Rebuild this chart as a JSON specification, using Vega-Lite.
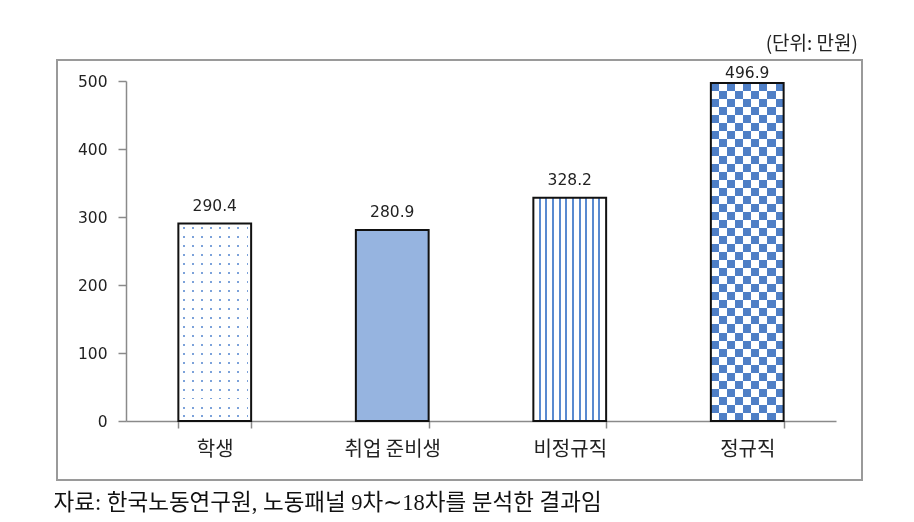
{
  "$schema": "https://vega.github.io/schema/vega-lite/v6.json",
  "width": 805,
  "height": 420,
  "autosize": {"type": "none"},
  "padding": {"left": 57, "top": 60, "right": 52, "bottom": 42},
  "background": "white",
  "config": {
    "view": {"stroke": "#9a9a9a", "strokeWidth": 2},
    "axis": {"grid": false}
  },
  "title": {
    "text": "(단위: 만원)",
    "anchor": "end",
    "orient": "top",
    "offset": 6,
    "dx": -4,
    "font": "Noto Sans CJK KR",
    "fontSize": 19,
    "fontWeight": "normal",
    "color": "#222222"
  },
  "data": {
    "values": [
      {"category": "학생", "value": 290.4},
      {"category": "취업 준비생", "value": 280.9},
      {"category": "비정규직", "value": 328.2},
      {"category": "정규직", "value": 496.9}
    ]
  },
  "encoding": {
    "x": {
      "field": "category",
      "type": "nominal",
      "sort": ["학생", "취업 준비생", "비정규직", "정규직"],
      "scale": {"range": [69, 779], "paddingInner": 0.59, "paddingOuter": 0.295},
      "axis": {
        "title": "자료: 한국노동연구원, 노동패널 9차∼18차를 분석한 결과임",
        "titleFont": "Liberation Serif, Noto Sans CJK KR",
        "titleFontSize": 22.5,
        "titleFontWeight": "normal",
        "titleColor": "#111111",
        "titleAlign": "left",
        "titleAnchor": "start",
        "titleBaseline": "middle",
        "titleX": -4,
        "titleY": 81,
        "offset": -59,
        "labelAngle": 0,
        "labelFont": "Noto Sans CJK KR",
        "labelFontSize": 20,
        "labelColor": "#222222",
        "labelPadding": 11,
        "tickBand": "extent",
        "tickColor": "#8a8a8a",
        "tickSize": 7,
        "tickWidth": 1.5,
        "domainColor": "#8a8a8a",
        "domainWidth": 1.5
      }
    },
    "y": {
      "field": "value",
      "type": "quantitative",
      "scale": {"domain": [0, 500], "range": [361, 21], "nice": false},
      "axis": {
        "title": null,
        "values": [0, 100, 200, 300, 400, 500],
        "offset": -69,
        "labelFont": "DejaVu Sans",
        "labelFontSize": 15.5,
        "labelColor": "#222222",
        "labelPadding": 11,
        "tickColor": "#8a8a8a",
        "tickSize": 8,
        "tickWidth": 1.5,
        "domainColor": "#8a8a8a",
        "domainWidth": 1.5
      }
    }
  },
  "layer": [
    {
      "transform": [{"filter": "datum.category === '학생'"}],
      "mark": {
        "type": "bar",
        "strokeWidth": 0,
        "fill": {
          "gradient": "linear", "x1": 0, "y1": 0, "x2": 1, "y2": 0,
          "stops": [
            {"offset": 0, "color": "#ffffff"},
            {"offset": 0.062, "color": "#ffffff"}, {"offset": 0.062, "color": "#7ca2da"}, {"offset": 0.086, "color": "#7ca2da"}, {"offset": 0.086, "color": "#ffffff"},
            {"offset": 0.187, "color": "#ffffff"}, {"offset": 0.187, "color": "#7ca2da"}, {"offset": 0.211, "color": "#7ca2da"}, {"offset": 0.211, "color": "#ffffff"},
            {"offset": 0.312, "color": "#ffffff"}, {"offset": 0.312, "color": "#7ca2da"}, {"offset": 0.336, "color": "#7ca2da"}, {"offset": 0.336, "color": "#ffffff"},
            {"offset": 0.437, "color": "#ffffff"}, {"offset": 0.437, "color": "#7ca2da"}, {"offset": 0.461, "color": "#7ca2da"}, {"offset": 0.461, "color": "#ffffff"},
            {"offset": 0.562, "color": "#ffffff"}, {"offset": 0.562, "color": "#7ca2da"}, {"offset": 0.586, "color": "#7ca2da"}, {"offset": 0.586, "color": "#ffffff"},
            {"offset": 0.687, "color": "#ffffff"}, {"offset": 0.687, "color": "#7ca2da"}, {"offset": 0.711, "color": "#7ca2da"}, {"offset": 0.711, "color": "#ffffff"},
            {"offset": 0.812, "color": "#ffffff"}, {"offset": 0.812, "color": "#7ca2da"}, {"offset": 0.836, "color": "#7ca2da"}, {"offset": 0.836, "color": "#ffffff"},
            {"offset": 0.937, "color": "#ffffff"}, {"offset": 0.937, "color": "#7ca2da"}, {"offset": 0.961, "color": "#7ca2da"}, {"offset": 0.961, "color": "#ffffff"},
            {"offset": 1, "color": "#ffffff"}
          ]
        }
      }
    },
    {
      "transform": [{"filter": "datum.category === '학생'"}],
      "mark": {
        "type": "bar",
        "strokeWidth": 0,
        "blend": "lighten",
        "fill": {
          "gradient": "linear", "x1": 0, "y1": 0, "x2": 0, "y2": 1,
          "stops": [
            {"offset": 0, "color": "#ffffff"},
            {"offset": 0.018, "color": "#ffffff"}, {"offset": 0.018, "color": "#000000"}, {"offset": 0.028, "color": "#000000"}, {"offset": 0.028, "color": "#ffffff"},
            {"offset": 0.063, "color": "#ffffff"}, {"offset": 0.063, "color": "#000000"}, {"offset": 0.073, "color": "#000000"}, {"offset": 0.073, "color": "#ffffff"},
            {"offset": 0.109, "color": "#ffffff"}, {"offset": 0.109, "color": "#000000"}, {"offset": 0.119, "color": "#000000"}, {"offset": 0.119, "color": "#ffffff"},
            {"offset": 0.154, "color": "#ffffff"}, {"offset": 0.154, "color": "#000000"}, {"offset": 0.164, "color": "#000000"}, {"offset": 0.164, "color": "#ffffff"},
            {"offset": 0.199, "color": "#ffffff"}, {"offset": 0.199, "color": "#000000"}, {"offset": 0.209, "color": "#000000"}, {"offset": 0.209, "color": "#ffffff"},
            {"offset": 0.245, "color": "#ffffff"}, {"offset": 0.245, "color": "#000000"}, {"offset": 0.255, "color": "#000000"}, {"offset": 0.255, "color": "#ffffff"},
            {"offset": 0.290, "color": "#ffffff"}, {"offset": 0.290, "color": "#000000"}, {"offset": 0.300, "color": "#000000"}, {"offset": 0.300, "color": "#ffffff"},
            {"offset": 0.336, "color": "#ffffff"}, {"offset": 0.336, "color": "#000000"}, {"offset": 0.346, "color": "#000000"}, {"offset": 0.346, "color": "#ffffff"},
            {"offset": 0.381, "color": "#ffffff"}, {"offset": 0.381, "color": "#000000"}, {"offset": 0.391, "color": "#000000"}, {"offset": 0.391, "color": "#ffffff"},
            {"offset": 0.427, "color": "#ffffff"}, {"offset": 0.427, "color": "#000000"}, {"offset": 0.437, "color": "#000000"}, {"offset": 0.437, "color": "#ffffff"},
            {"offset": 0.472, "color": "#ffffff"}, {"offset": 0.472, "color": "#000000"}, {"offset": 0.482, "color": "#000000"}, {"offset": 0.482, "color": "#ffffff"},
            {"offset": 0.518, "color": "#ffffff"}, {"offset": 0.518, "color": "#000000"}, {"offset": 0.528, "color": "#000000"}, {"offset": 0.528, "color": "#ffffff"},
            {"offset": 0.563, "color": "#ffffff"}, {"offset": 0.563, "color": "#000000"}, {"offset": 0.573, "color": "#000000"}, {"offset": 0.573, "color": "#ffffff"},
            {"offset": 0.609, "color": "#ffffff"}, {"offset": 0.609, "color": "#000000"}, {"offset": 0.619, "color": "#000000"}, {"offset": 0.619, "color": "#ffffff"},
            {"offset": 0.654, "color": "#ffffff"}, {"offset": 0.654, "color": "#000000"}, {"offset": 0.664, "color": "#000000"}, {"offset": 0.664, "color": "#ffffff"},
            {"offset": 0.699, "color": "#ffffff"}, {"offset": 0.699, "color": "#000000"}, {"offset": 0.709, "color": "#000000"}, {"offset": 0.709, "color": "#ffffff"},
            {"offset": 0.745, "color": "#ffffff"}, {"offset": 0.745, "color": "#000000"}, {"offset": 0.755, "color": "#000000"}, {"offset": 0.755, "color": "#ffffff"},
            {"offset": 0.790, "color": "#ffffff"}, {"offset": 0.790, "color": "#000000"}, {"offset": 0.800, "color": "#000000"}, {"offset": 0.800, "color": "#ffffff"},
            {"offset": 0.836, "color": "#ffffff"}, {"offset": 0.836, "color": "#000000"}, {"offset": 0.846, "color": "#000000"}, {"offset": 0.846, "color": "#ffffff"},
            {"offset": 0.881, "color": "#ffffff"}, {"offset": 0.881, "color": "#000000"}, {"offset": 0.891, "color": "#000000"}, {"offset": 0.891, "color": "#ffffff"},
            {"offset": 0.927, "color": "#ffffff"}, {"offset": 0.927, "color": "#000000"}, {"offset": 0.937, "color": "#000000"}, {"offset": 0.937, "color": "#ffffff"},
            {"offset": 0.972, "color": "#ffffff"}, {"offset": 0.972, "color": "#000000"}, {"offset": 0.982, "color": "#000000"}, {"offset": 0.982, "color": "#ffffff"},
            {"offset": 1, "color": "#ffffff"}
          ]
        }
      }
    },
    {
      "transform": [{"filter": "datum.category === '취업 준비생'"}],
      "mark": {"type": "bar", "strokeWidth": 0, "fill": "#96b4e0"}
    },
    {
      "transform": [{"filter": "datum.category === '비정규직'"}],
      "mark": {
        "type": "bar",
        "strokeWidth": 0,
        "fill": {
          "gradient": "linear", "x1": 0, "y1": 0, "x2": 1, "y2": 0,
          "stops": [
            {"offset": 0, "color": "#ffffff"},
            {"offset": 0.073, "color": "#ffffff"}, {"offset": 0.073, "color": "#5a8ad0"}, {"offset": 0.100, "color": "#5a8ad0"}, {"offset": 0.100, "color": "#ffffff"},
            {"offset": 0.164, "color": "#ffffff"}, {"offset": 0.164, "color": "#5a8ad0"}, {"offset": 0.191, "color": "#5a8ad0"}, {"offset": 0.191, "color": "#ffffff"},
            {"offset": 0.255, "color": "#ffffff"}, {"offset": 0.255, "color": "#5a8ad0"}, {"offset": 0.282, "color": "#5a8ad0"}, {"offset": 0.282, "color": "#ffffff"},
            {"offset": 0.347, "color": "#ffffff"}, {"offset": 0.347, "color": "#5a8ad0"}, {"offset": 0.374, "color": "#5a8ad0"}, {"offset": 0.374, "color": "#ffffff"},
            {"offset": 0.438, "color": "#ffffff"}, {"offset": 0.438, "color": "#5a8ad0"}, {"offset": 0.465, "color": "#5a8ad0"}, {"offset": 0.465, "color": "#ffffff"},
            {"offset": 0.529, "color": "#ffffff"}, {"offset": 0.529, "color": "#5a8ad0"}, {"offset": 0.556, "color": "#5a8ad0"}, {"offset": 0.556, "color": "#ffffff"},
            {"offset": 0.621, "color": "#ffffff"}, {"offset": 0.621, "color": "#5a8ad0"}, {"offset": 0.648, "color": "#5a8ad0"}, {"offset": 0.648, "color": "#ffffff"},
            {"offset": 0.712, "color": "#ffffff"}, {"offset": 0.712, "color": "#5a8ad0"}, {"offset": 0.739, "color": "#5a8ad0"}, {"offset": 0.739, "color": "#ffffff"},
            {"offset": 0.804, "color": "#ffffff"}, {"offset": 0.804, "color": "#5a8ad0"}, {"offset": 0.831, "color": "#5a8ad0"}, {"offset": 0.831, "color": "#ffffff"},
            {"offset": 0.895, "color": "#ffffff"}, {"offset": 0.895, "color": "#5a8ad0"}, {"offset": 0.922, "color": "#5a8ad0"}, {"offset": 0.922, "color": "#ffffff"},
            {"offset": 1, "color": "#ffffff"}
          ]
        }
      }
    },
    {
      "transform": [{"filter": "datum.category === '정규직'"}],
      "mark": {
        "type": "bar",
        "strokeWidth": 0,
        "fill": {
          "gradient": "linear", "x1": 0, "y1": 0, "x2": 1, "y2": 0,
          "stops": [
            {"offset": 0, "color": "#b08039"}, {"offset": 0.1111, "color": "#b08039"},
            {"offset": 0.1111, "color": "#000000"}, {"offset": 0.2222, "color": "#000000"},
            {"offset": 0.2222, "color": "#b08039"}, {"offset": 0.3333, "color": "#b08039"},
            {"offset": 0.3333, "color": "#000000"}, {"offset": 0.4444, "color": "#000000"},
            {"offset": 0.4444, "color": "#b08039"}, {"offset": 0.5556, "color": "#b08039"},
            {"offset": 0.5556, "color": "#000000"}, {"offset": 0.6667, "color": "#000000"},
            {"offset": 0.6667, "color": "#b08039"}, {"offset": 0.7778, "color": "#b08039"},
            {"offset": 0.7778, "color": "#000000"}, {"offset": 0.8889, "color": "#000000"},
            {"offset": 0.8889, "color": "#b08039"}, {"offset": 1, "color": "#b08039"}
          ]
        }
      }
    },
    {
      "transform": [{"filter": "datum.category === '정규직'"}],
      "mark": {
        "type": "bar",
        "strokeWidth": 0,
        "blend": "difference",
        "fill": {
          "gradient": "linear", "x1": 0, "y1": 0, "x2": 0, "y2": 1,
          "stops": [
            {"offset": 0, "color": "#000000"}, {"offset": 0.0238, "color": "#000000"},
            {"offset": 0.0238, "color": "#b08039"}, {"offset": 0.0476, "color": "#b08039"},
            {"offset": 0.0476, "color": "#000000"}, {"offset": 0.0714, "color": "#000000"},
            {"offset": 0.0714, "color": "#b08039"}, {"offset": 0.0952, "color": "#b08039"},
            {"offset": 0.0952, "color": "#000000"}, {"offset": 0.119, "color": "#000000"},
            {"offset": 0.119, "color": "#b08039"}, {"offset": 0.1429, "color": "#b08039"},
            {"offset": 0.1429, "color": "#000000"}, {"offset": 0.1667, "color": "#000000"},
            {"offset": 0.1667, "color": "#b08039"}, {"offset": 0.1905, "color": "#b08039"},
            {"offset": 0.1905, "color": "#000000"}, {"offset": 0.2143, "color": "#000000"},
            {"offset": 0.2143, "color": "#b08039"}, {"offset": 0.2381, "color": "#b08039"},
            {"offset": 0.2381, "color": "#000000"}, {"offset": 0.2619, "color": "#000000"},
            {"offset": 0.2619, "color": "#b08039"}, {"offset": 0.2857, "color": "#b08039"},
            {"offset": 0.2857, "color": "#000000"}, {"offset": 0.3095, "color": "#000000"},
            {"offset": 0.3095, "color": "#b08039"}, {"offset": 0.3333, "color": "#b08039"},
            {"offset": 0.3333, "color": "#000000"}, {"offset": 0.3571, "color": "#000000"},
            {"offset": 0.3571, "color": "#b08039"}, {"offset": 0.381, "color": "#b08039"},
            {"offset": 0.381, "color": "#000000"}, {"offset": 0.4048, "color": "#000000"},
            {"offset": 0.4048, "color": "#b08039"}, {"offset": 0.4286, "color": "#b08039"},
            {"offset": 0.4286, "color": "#000000"}, {"offset": 0.4524, "color": "#000000"},
            {"offset": 0.4524, "color": "#b08039"}, {"offset": 0.4762, "color": "#b08039"},
            {"offset": 0.4762, "color": "#000000"}, {"offset": 0.5, "color": "#000000"},
            {"offset": 0.5, "color": "#b08039"}, {"offset": 0.5238, "color": "#b08039"},
            {"offset": 0.5238, "color": "#000000"}, {"offset": 0.5476, "color": "#000000"},
            {"offset": 0.5476, "color": "#b08039"}, {"offset": 0.5714, "color": "#b08039"},
            {"offset": 0.5714, "color": "#000000"}, {"offset": 0.5952, "color": "#000000"},
            {"offset": 0.5952, "color": "#b08039"}, {"offset": 0.619, "color": "#b08039"},
            {"offset": 0.619, "color": "#000000"}, {"offset": 0.6429, "color": "#000000"},
            {"offset": 0.6429, "color": "#b08039"}, {"offset": 0.6667, "color": "#b08039"},
            {"offset": 0.6667, "color": "#000000"}, {"offset": 0.6905, "color": "#000000"},
            {"offset": 0.6905, "color": "#b08039"}, {"offset": 0.7143, "color": "#b08039"},
            {"offset": 0.7143, "color": "#000000"}, {"offset": 0.7381, "color": "#000000"},
            {"offset": 0.7381, "color": "#b08039"}, {"offset": 0.7619, "color": "#b08039"},
            {"offset": 0.7619, "color": "#000000"}, {"offset": 0.7857, "color": "#000000"},
            {"offset": 0.7857, "color": "#b08039"}, {"offset": 0.8095, "color": "#b08039"},
            {"offset": 0.8095, "color": "#000000"}, {"offset": 0.8333, "color": "#000000"},
            {"offset": 0.8333, "color": "#b08039"}, {"offset": 0.8571, "color": "#b08039"},
            {"offset": 0.8571, "color": "#000000"}, {"offset": 0.881, "color": "#000000"},
            {"offset": 0.881, "color": "#b08039"}, {"offset": 0.9048, "color": "#b08039"},
            {"offset": 0.9048, "color": "#000000"}, {"offset": 0.9286, "color": "#000000"},
            {"offset": 0.9286, "color": "#b08039"}, {"offset": 0.9524, "color": "#b08039"},
            {"offset": 0.9524, "color": "#000000"}, {"offset": 0.9762, "color": "#000000"},
            {"offset": 0.9762, "color": "#b08039"}, {"offset": 1, "color": "#b08039"}
          ]
        }
      }
    },
    {
      "transform": [{"filter": "datum.category === '정규직'"}],
      "mark": {"type": "bar", "strokeWidth": 0, "blend": "difference", "fill": "#ffffff"}
    },
    {
      "mark": {"type": "bar", "fillOpacity": 0, "stroke": "#111111", "strokeWidth": 2}
    },
    {
      "transform": [{"filter": "datum.category !== '정규직'"}],
      "mark": {
        "type": "text",
        "baseline": "alphabetic",
        "dy": -13,
        "font": "DejaVu Sans",
        "fontSize": 15.5,
        "color": "#222222"
      },
      "encoding": {"text": {"field": "value", "type": "quantitative", "format": ".1f"}}
    },
    {
      "transform": [{"filter": "datum.category === '정규직'"}],
      "mark": {
        "type": "text",
        "baseline": "alphabetic",
        "dy": -5,
        "font": "DejaVu Sans",
        "fontSize": 15.5,
        "color": "#222222"
      },
      "encoding": {"text": {"field": "value", "type": "quantitative", "format": ".1f"}}
    }
  ]
}
